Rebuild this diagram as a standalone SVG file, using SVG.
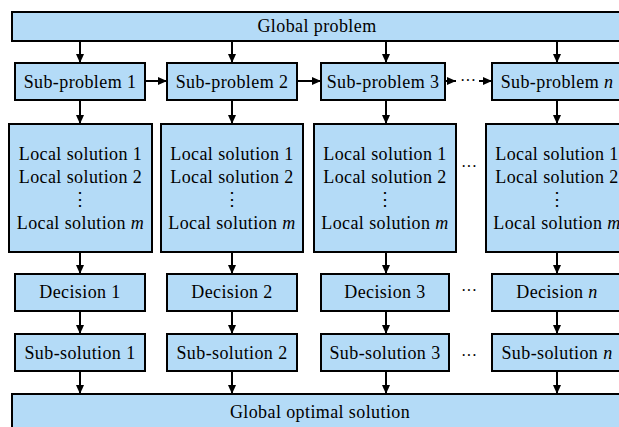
<svg xmlns="http://www.w3.org/2000/svg" width="619" height="427" viewBox="0 0 619 427" font-family="Liberation Serif, Times New Roman, serif">
  <style>
    .box { fill: #b4dbf7; stroke: #000; stroke-width: 2; }
    .t { font-size: 18px; letter-spacing: 0.4px; fill: #000; text-anchor: middle; }
    .i { font-style: italic; }
    .edge { stroke: #000; stroke-width: 2; fill: none; marker-end: url(#arrow); }
    .dots { font-size: 16px; fill: #000; text-anchor: middle; }
  </style>
  <defs>
    <marker id="arrow" markerUnits="userSpaceOnUse" markerWidth="10" markerHeight="10" refX="9" refY="5" orient="auto">
      <path d="M0,1 L9,5 L0,9 Z" fill="#000"/>
    </marker>
  </defs>

  <rect width="619" height="427" fill="#fff"/>

  <g id="global-problem">
    <rect class="box" x="12" y="12" width="610" height="29"/>
    <text class="t" x="317" y="32">Global problem</text>
  </g>

  <g id="sub-problem-1">
    <rect class="box" x="15" y="63" width="130" height="37"/>
    <text class="t" x="80" y="88">Sub-problem 1</text>
  </g>
  <g id="sub-problem-2">
    <rect class="box" x="167" y="63" width="130" height="37"/>
    <text class="t" x="232" y="88">Sub-problem 2</text>
  </g>
  <g id="sub-problem-3">
    <rect class="box" x="321" y="63" width="124" height="37"/>
    <text class="t" x="383" y="88">Sub-problem 3</text>
  </g>
  <g id="sub-problem-n">
    <rect class="box" x="492" y="63" width="130" height="37"/>
    <text class="t" x="557" y="88">Sub-problem <tspan class="i">n</tspan></text>
  </g>

  <g id="local-solutions-1">
    <rect class="box" x="9" y="124" width="143" height="128"/>
    <text class="t" x="80.5" y="160">Local solution 1</text>
    <text class="t" x="80.5" y="183">Local solution 2</text>
    <text class="t" x="80.5" y="205">⋮</text>
    <text class="t" x="80.5" y="229">Local solution <tspan class="i">m</tspan></text>
  </g>
  <g id="local-solutions-2">
    <rect class="box" x="161" y="124" width="142" height="128"/>
    <text class="t" x="232" y="160">Local solution 1</text>
    <text class="t" x="232" y="183">Local solution 2</text>
    <text class="t" x="232" y="205">⋮</text>
    <text class="t" x="232" y="229">Local solution <tspan class="i">m</tspan></text>
  </g>
  <g id="local-solutions-3">
    <rect class="box" x="314" y="124" width="142" height="128"/>
    <text class="t" x="385" y="160">Local solution 1</text>
    <text class="t" x="385" y="183">Local solution 2</text>
    <text class="t" x="385" y="205">⋮</text>
    <text class="t" x="385" y="229">Local solution <tspan class="i">m</tspan></text>
  </g>
  <g id="local-solutions-n">
    <rect class="box" x="486" y="124" width="142" height="128"/>
    <text class="t" x="557" y="160">Local solution 1</text>
    <text class="t" x="557" y="183">Local solution 2</text>
    <text class="t" x="557" y="205">⋮</text>
    <text class="t" x="557" y="229">Local solution <tspan class="i">m</tspan></text>
  </g>

  <g id="decision-1">
    <rect class="box" x="15" y="274" width="130" height="37"/>
    <text class="t" x="80" y="298">Decision 1</text>
  </g>
  <g id="decision-2">
    <rect class="box" x="167" y="274" width="130" height="37"/>
    <text class="t" x="232" y="298">Decision 2</text>
  </g>
  <g id="decision-3">
    <rect class="box" x="321" y="274" width="128" height="37"/>
    <text class="t" x="385" y="298">Decision 3</text>
  </g>
  <g id="decision-n">
    <rect class="box" x="492" y="274" width="130" height="37"/>
    <text class="t" x="557" y="298">Decision <tspan class="i">n</tspan></text>
  </g>

  <g id="sub-solution-1">
    <rect class="box" x="15" y="334" width="130" height="37"/>
    <text class="t" x="80" y="359">Sub-solution 1</text>
  </g>
  <g id="sub-solution-2">
    <rect class="box" x="167" y="334" width="130" height="37"/>
    <text class="t" x="232" y="359">Sub-solution 2</text>
  </g>
  <g id="sub-solution-3">
    <rect class="box" x="321" y="334" width="128" height="37"/>
    <text class="t" x="385" y="359">Sub-solution 3</text>
  </g>
  <g id="sub-solution-n">
    <rect class="box" x="492" y="334" width="130" height="37"/>
    <text class="t" x="557" y="359">Sub-solution <tspan class="i">n</tspan></text>
  </g>

  <g id="global-optimal-solution">
    <rect class="box" x="12" y="394" width="610" height="40"/>
    <text class="t" x="320" y="418">Global optimal solution</text>
  </g>

  <!-- ellipses between the third and n-th columns -->
  <g id="gaps">
    <text class="dots" x="469" y="172">···</text>
    <text class="dots" x="469" y="296">···</text>
    <text class="dots" x="469" y="361">···</text>
    <text class="dots" x="468" y="86">···</text>
  </g>

  <g id="connectors">
    <!-- global problem to sub-problems -->
    <line class="edge" x1="80" y1="41" x2="80" y2="63"/>
    <line class="edge" x1="232" y1="41" x2="232" y2="63"/>
    <line class="edge" x1="386" y1="41" x2="386" y2="63"/>
    <line class="edge" x1="557" y1="41" x2="557" y2="63"/>
    <!-- chain between sub-problems -->
    <line class="edge" x1="145" y1="81" x2="167" y2="81"/>
    <line class="edge" x1="297" y1="81" x2="321" y2="81"/>
    <line class="edge" x1="445" y1="81" x2="456" y2="81"/>
    <line class="edge" x1="479" y1="81" x2="492" y2="81"/>
    <!-- sub-problems to local solutions -->
    <line class="edge" x1="80" y1="100" x2="80" y2="124"/>
    <line class="edge" x1="232" y1="100" x2="232" y2="124"/>
    <line class="edge" x1="386" y1="100" x2="386" y2="124"/>
    <line class="edge" x1="557" y1="100" x2="557" y2="124"/>
    <!-- local solutions to decisions -->
    <line class="edge" x1="80" y1="252" x2="80" y2="274"/>
    <line class="edge" x1="232" y1="252" x2="232" y2="274"/>
    <line class="edge" x1="386" y1="252" x2="386" y2="274"/>
    <line class="edge" x1="557" y1="252" x2="557" y2="274"/>
    <!-- decisions to sub-solutions -->
    <line class="edge" x1="80" y1="311" x2="80" y2="334"/>
    <line class="edge" x1="232" y1="311" x2="232" y2="334"/>
    <line class="edge" x1="386" y1="311" x2="386" y2="334"/>
    <line class="edge" x1="557" y1="311" x2="557" y2="334"/>
    <!-- sub-solutions to global optimal solution -->
    <line class="edge" x1="80" y1="371" x2="80" y2="394"/>
    <line class="edge" x1="232" y1="371" x2="232" y2="394"/>
    <line class="edge" x1="386" y1="371" x2="386" y2="394"/>
    <line class="edge" x1="557" y1="371" x2="557" y2="394"/>
  </g>
</svg>
